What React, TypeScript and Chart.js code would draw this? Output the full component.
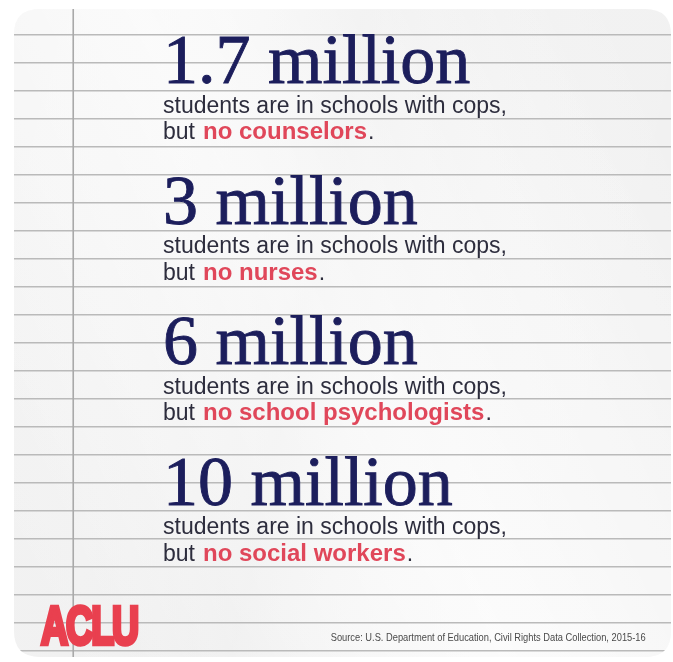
import React, { useEffect, useRef } from "react";
import { Chart, registerables } from "chart.js";

Chart.register(...registerables);

// ---- data ----
const amounts = [1.7, 3, 6, 10];
const unitLabel = "million";
const leadText = "students are in schools with cops,";
const missingStaff = ["counselors", "nurses", "school psychologists", "social workers"];
const brandName = "ACLU";
const sourceNote = "Source: U.S. Department of Education, Civil Rights Data Collection, 2015-16";
const ruledRows = 22; // intervals between ruled lines

// ---- layout (scale units) ----
const X_MAX = 100;
const MARGIN_X = 9; // vertical margin rule
const TEXT_X = 22.65;
const FIRST_ROW = 1.72;
const ROWS_PER_BLOCK = 5.02;

const W = 673;
const H = 662;

const NAVY = "#1c1e5c";
const BODY = "#2d2d3d";
const RED = "#e0475a";
const LOGO_RED = "#e9404f";

function roundRect(ctx: CanvasRenderingContext2D, x: number, y: number, w: number, h: number, r: number) {
  ctx.beginPath();
  ctx.moveTo(x + r, y);
  ctx.lineTo(x + w - r, y);
  ctx.quadraticCurveTo(x + w, y, x + w, y + r);
  ctx.lineTo(x + w, y + h - r);
  ctx.quadraticCurveTo(x + w, y + h, x + w - r, y + h);
  ctx.lineTo(x + r, y + h);
  ctx.quadraticCurveTo(x, y + h, x, y + h - r);
  ctx.lineTo(x, y + r);
  ctx.quadraticCurveTo(x, y, x + r, y);
  ctx.closePath();
}

const paperPlugin = {
  id: "paper",
  beforeDraw(chart: any) {
    const ctx: CanvasRenderingContext2D = chart.ctx;
    ctx.save();
    ctx.fillStyle = "#ffffff";
    ctx.fillRect(0, 0, W, H);
    roundRect(ctx, 14, 9, 657, 648, 26);
    ctx.fillStyle = "#f1f1f1";
    ctx.fill();
    ctx.clip();
    // subtle crumple shading
    const shades: Array<[number, number, number, number, string]> = [
      [0, 420, 673, 120, "rgba(255,255,255,0.55)"],
      [0, 80, 673, 220, "rgba(228,228,228,0.35)"],
      [0, 560, 673, 200, "rgba(255,255,255,0.45)"],
    ];
    for (const [x0, y0, x1, y1, c] of shades) {
      const g = ctx.createLinearGradient(x0, y0, x1, y1);
      g.addColorStop(0, "rgba(255,255,255,0)");
      g.addColorStop(0.5, c);
      g.addColorStop(1, "rgba(255,255,255,0)");
      ctx.fillStyle = g;
      ctx.fillRect(0, 0, W, H);
    }
  },
  beforeDatasetsDraw(chart: any) {
    const ctx: CanvasRenderingContext2D = chart.ctx;
    const x = chart.scales.x.getPixelForValue(MARGIN_X);
    ctx.save();
    ctx.strokeStyle = "#a9a9a9";
    ctx.lineWidth = 1.6;
    ctx.beginPath();
    ctx.moveTo(x, 0);
    ctx.lineTo(x, H);
    ctx.stroke();
    ctx.restore();
  },
  afterDraw(chart: any) {
    const ctx: CanvasRenderingContext2D = chart.ctx;
    const xs = chart.scales.x;
    const ys = chart.scales.y;
    const meta = chart.getDatasetMeta(0);
    meta.data.forEach((pt: any, i: number) => {
      const x = pt.x;
      const row = ys.getValueForPixel(pt.y);
      ctx.textBaseline = "alphabetic";
      ctx.textAlign = "left";
      // headline
      ctx.fillStyle = NAVY;
      ctx.strokeStyle = NAVY;
      ctx.lineWidth = 0.9;
      ctx.font = '70px "Liberation Serif"';
      const head = `${amounts[i]} ${unitLabel}`;
      ctx.fillText(head, x, pt.y);
      ctx.strokeText(head, x, pt.y);
      // sub line 1
      ctx.font = '23px "Liberation Sans"';
      ctx.fillStyle = BODY;
      ctx.fillText(leadText, x, ys.getPixelForValue(row + 1.05));
      // sub line 2
      const y2 = ys.getPixelForValue(row + 2.0);
      const lead = "but";
      ctx.fillText(lead, x, y2);
      let cx = x + ctx.measureText(lead).width + 8;
      ctx.font = 'bold 24px "Liberation Sans"';
      ctx.fillStyle = RED;
      const red = `no ${missingStaff[i]}`;
      ctx.fillText(red, cx, y2);
      cx += ctx.measureText(red).width + 1;
      ctx.font = '23px "Liberation Sans"';
      ctx.fillStyle = BODY;
      ctx.fillText(".", cx, y2);
    });

    // logo
    ctx.save();
    ctx.font = 'bold 54px "Liberation Sans"';
    (ctx as any).letterSpacing = "-3px";
    const lw = ctx.measureText(brandName).width;
    const lx = xs.getPixelForValue(3.95);
    const ly = ys.getPixelForValue(21.8);
    ctx.translate(lx, ly);
    ctx.scale(96 / lw, 1);
    ctx.fillStyle = LOGO_RED;
    ctx.strokeStyle = LOGO_RED;
    ctx.lineWidth = 4.5;
    ctx.lineJoin = "miter";
    ctx.fillText(brandName, 1.5, -1);
    ctx.strokeText(brandName, 1.5, -1);
    ctx.restore();

    // source
    ctx.save();
    ctx.font = '11px "Liberation Sans"';
    const sw = ctx.measureText(sourceNote).width;
    const sxRight = xs.getPixelForValue(96);
    const sy = ys.getPixelForValue(21.65);
    ctx.translate(sxRight - 315, sy);
    ctx.scale(315 / sw, 1);
    ctx.fillStyle = "#4a4a4a";
    ctx.fillText(sourceNote, 0, 0);
    ctx.restore();

    ctx.restore(); // from beforeDraw clip
  },
};

export default function App() {
  const ref = useRef<HTMLCanvasElement | null>(null);
  useEffect(() => {
    if (!ref.current) return;
    const chart = new Chart(ref.current, {
      type: "scatter",
      data: {
        datasets: [
          {
            data: amounts.map((_, i) => ({ x: TEXT_X, y: FIRST_ROW + i * ROWS_PER_BLOCK })),
            pointRadius: 0,
            pointHoverRadius: 0,
          },
        ],
      },
      options: {
        responsive: false,
        animation: false,
        events: [],
        layout: { padding: { top: 35, bottom: 11, left: 14, right: 1 } },
        plugins: { legend: { display: false }, tooltip: { enabled: false } },
        scales: {
          x: { type: "linear", min: 0, max: X_MAX, display: false },
          y: {
            type: "linear",
            min: 0,
            max: ruledRows,
            reverse: true,
            display: true,
            ticks: { display: false, stepSize: 1 },
            grid: { color: "#bababa", lineWidth: 1.5, drawTicks: false },
            border: { display: false },
          },
        },
      },
      plugins: [paperPlugin],
    });
    return () => chart.destroy();
  }, []);
  return (
    <div style={{ position: "fixed", left: 0, top: 0, width: W, height: H, background: "#fff" }}>
      <canvas ref={ref} width={W} height={H} style={{ display: "block", width: W, height: H }} />
    </div>
  );
}
